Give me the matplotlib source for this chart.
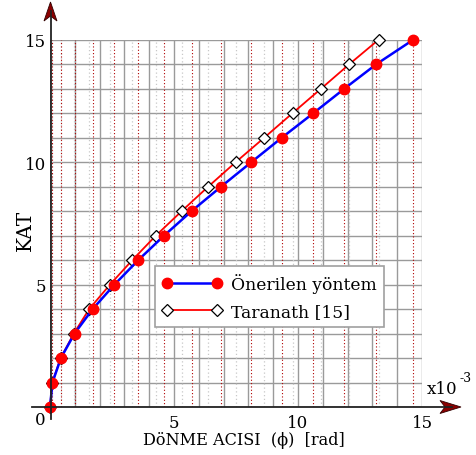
import matplotlib
matplotlib.use("Agg")
import matplotlib.pyplot as plt
from matplotlib.patches import Polygon
from matplotlib.lines import Line2D
import matplotlib.transforms as mtransforms

# ---- data ----
kat = list(range(0, 16))
phi_onerilen = [0.0, 0.10, 0.44, 0.99, 1.72, 2.60, 3.56, 4.60, 5.71, 6.90,
                8.12, 9.35, 10.62, 11.87, 13.16, 14.65]
phi_taranath = [0.0, 0.09, 0.43, 0.96, 1.58, 2.42, 3.32, 4.27, 5.31, 6.38,
                7.49, 8.64, 9.78, 10.93, 12.07, 13.25]
series_labels = ["Önerilen yöntem", "Taranath [15]"]
x_ticks = list(range(0, 16))
x_ticklabels = ["" if v % 5 else str(v) for v in x_ticks]
x_ticklabels[0] = ""
y_ticks = list(range(0, 16))
y_ticklabels = ["" if v % 5 else str(v) for v in y_ticks]
y_ticklabels[0] = ""
x_label = "DöNME ACISI  (ϕ)  [rad]"
y_label = "KAT"
scale_text = "x10"
scale_exp = "-3"

FONT = ["DejaVu Serif"]
plt.rcParams["font.family"] = FONT

W, H = 476, 456
fig = plt.figure(figsize=(W / 100, H / 100), dpi=100)
ax = fig.add_axes([50 / W, 48 / H, 372 / W, 367.3 / H])

# pixel (from top-left) transform for decorations
pix = mtransforms.Affine2D().scale(1 / W, -1 / H).translate(0, 1) + fig.transFigure

ax.set_xlim(0, 15)
ax.set_ylim(0, 15)

# drop lines
ax.vlines(phi_taranath[1:], 0, 15, colors="#c8c8c8", linestyles=(0, (1, 2)), lw=0.9, zorder=1)
ax.vlines(phi_onerilen[1:], 0, 15, colors="#b00000", linestyles=(0, (1, 2)), lw=0.8, zorder=1)

ax.set_xticks(x_ticks)
ax.set_xticklabels(x_ticklabels)
ax.set_yticks(y_ticks)
ax.set_yticklabels(y_ticklabels)
ax.tick_params(length=0, labelsize=12)
ax.tick_params(axis="x", pad=5)
ax.tick_params(axis="y", pad=3)
ax.grid(True, color="#9a9a9a", lw=1.0, zorder=0)
ax.set_axisbelow(True)
for s in ax.spines.values():
    s.set_visible(False)

# series
ax.plot(phi_taranath, kat, color="red", lw=1.3, marker="D", markersize=6.5,
        markerfacecolor="white", markeredgecolor="black", markeredgewidth=0.9,
        label=series_labels[1], zorder=3, clip_on=False)
ax.plot(phi_onerilen, kat, color="blue", lw=1.8, marker="o", markersize=7.5,
        markerfacecolor="red", markeredgecolor="red",
        label=series_labels[0], zorder=4, clip_on=False)

handles, labels = ax.get_legend_handles_labels()
leg = ax.legend(handles[::-1], labels[::-1], loc="upper left",
                bbox_to_anchor=(0.282, 0.384), borderaxespad=0, numpoints=2,
                handlelength=3.5, fontsize=12.3, frameon=True, fancybox=False,
                edgecolor="#a0a0a0", framealpha=1, borderpad=0.42,
                labelspacing=0.6, handletextpad=0.55)
leg.get_frame().set_linewidth(1.2)

# axis lines with arrows
axis_col = "#222222"
fig.add_artist(Line2D([32, 452], [408, 408], transform=pix, color=axis_col, lw=1.3))
fig.add_artist(Line2D([50.5, 50.5], [420, 12], transform=pix, color=axis_col, lw=1.3))
arrow_col = "#8b0000"
fig.add_artist(Polygon([[50.5, 3], [44, 22], [50.5, 17], [57, 22]], closed=True,
                       transform=pix, facecolor=arrow_col, edgecolor="#300000", lw=0.6))
fig.add_artist(Polygon([[461, 408], [440, 401.5], [445, 408], [440, 414.5]], closed=True,
                       transform=pix, facecolor=arrow_col, edgecolor="#300000", lw=0.6))

# texts
fig.text(40 / W, 1 - 420.5 / H, "0", fontsize=12, ha="center", va="center")
fig.text(244 / W, 1 - 441 / H, x_label, fontsize=11.6, ha="center", va="center")
fig.text(25 / W, 1 - 230 / H, y_label, fontsize=14.5, ha="center", va="center", rotation=90)
fig.text(427 / W, 1 - 394.5 / H, scale_text, fontsize=12, ha="left", va="baseline")
fig.text(459 / W, 1 - 382 / H, scale_exp, fontsize=9, ha="left", va="baseline")

fig.savefig("out.png", dpi=100)
